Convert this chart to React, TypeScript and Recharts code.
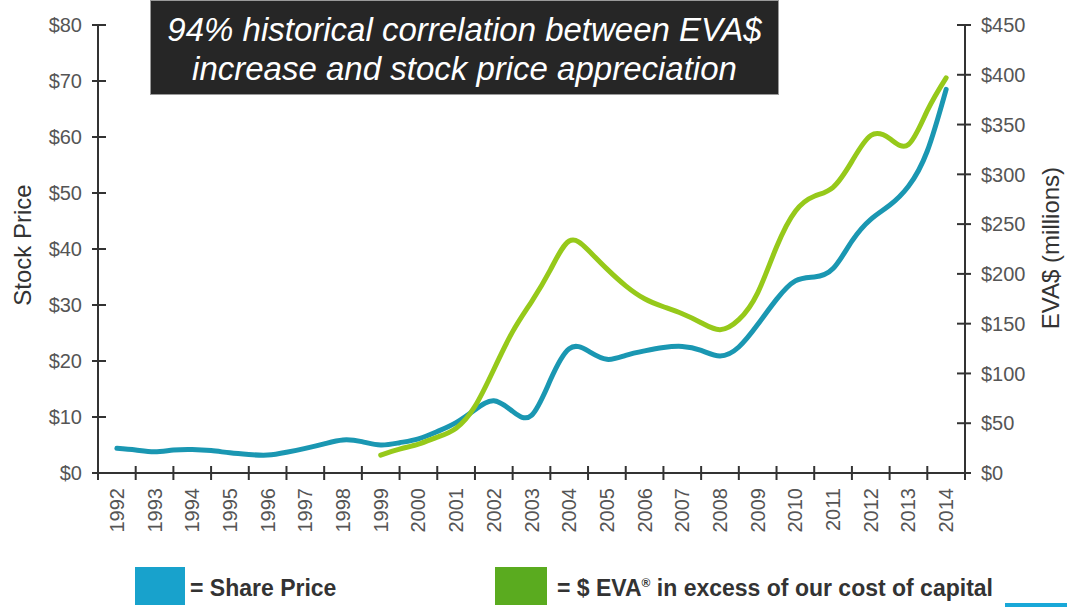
import { LineChart, Line, XAxis, YAxis } from "recharts";

// half-year sample points
const periods = [
  1992, 1992.5, 1993, 1993.5, 1994, 1994.5, 1995, 1995.5, 1996, 1996.5,
  1997, 1997.5, 1998, 1998.5, 1999, 1999.5, 2000, 2000.5, 2001, 2001.5,
  2002, 2002.5, 2003, 2003.5, 2004, 2004.5, 2005, 2005.5, 2006, 2006.5,
  2007, 2007.5, 2008, 2008.5, 2009, 2009.5, 2010, 2010.5, 2011, 2011.5,
  2012, 2012.5, 2013, 2013.5, 2014,
];

// share price, $ (left axis)
const sharePrice = [
  4.4, 4.1, 3.8, 4.1, 4.2, 4.0, 3.6, 3.3, 3.2, 3.7,
  4.4, 5.2, 5.9, 5.6, 5.0, 5.4, 6.1, 7.4, 9.0, 11.3,
  12.9, 11.0, 10.3, 16.6, 22.2, 21.8, 20.3, 21.0, 21.8, 22.4,
  22.6, 21.9, 20.9, 22.5, 26.5, 31.0, 34.3, 35.0, 36.5, 41.4,
  45.3, 47.8, 51.2, 57.5, 68.5,
];

// EVA$ in excess of cost of capital, $ millions (right axis)
const evaDollars = [
  null, null, null, null, null, null, null, null, null, null,
  null, null, null, null, 18, 24, 29, 36, 45, 67,
  104, 142, 172, 204, 233, 224, 205, 188, 175, 167,
  160, 151, 144, 154, 181, 227, 263, 278, 287, 313,
  339, 336, 330, 364, 397,
];

const years = [
  1992, 1993, 1994, 1995, 1996, 1997, 1998, 1999, 2000, 2001, 2002, 2003,
  2004, 2005, 2006, 2007, 2008, 2009, 2010, 2011, 2012, 2013, 2014,
];
const priceTicks = [0, 10, 20, 30, 40, 50, 60, 70, 80];
const evaTicks = [0, 50, 100, 150, 200, 250, 300, 350, 400, 450];

const rows = periods.map((p, i) => ({
  period: p,
  price: sharePrice[i],
  eva: evaDollars[i],
}));

const W = 1067;
const H = 607;
const LEFT_W = 98;
const RIGHT_W = 102;
const HALF_STEP = (W - LEFT_W - RIGHT_W) / years.length / 2;

const FONT = '"Liberation Sans", Arial, Helvetica, sans-serif';
const AXIS = "#333";
const TICK_TXT = "#555";
const BLUE = "#1a97b2";
const GREEN = "#96c91a";

function LeftTick(props: any) {
  const { x, y, payload } = props;
  return (
    <g>
      <line x1={x + 10} x2={x + 24} y1={y} y2={y} stroke={AXIS} strokeWidth={2} />
      <text x={x} y={y} dy="0.36em" textAnchor="end" fontFamily={FONT} fontSize={20} fill={TICK_TXT}>
        {"$" + payload.value}
      </text>
    </g>
  );
}

function RightTick(props: any) {
  const { x, y, payload } = props;
  return (
    <g>
      <line x1={x - 24} x2={x - 10} y1={y} y2={y} stroke={AXIS} strokeWidth={2} />
      <text x={x} y={y} dy="0.36em" textAnchor="start" fontFamily={FONT} fontSize={20} fill={TICK_TXT}>
        {"$" + payload.value}
      </text>
    </g>
  );
}

function YearTick(props: any) {
  const { x, y, payload, index } = props;
  const axisY = y - 15;
  return (
    <g>
      <line x1={x - HALF_STEP} x2={x - HALF_STEP} y1={axisY - 7} y2={axisY + 7} stroke={AXIS} strokeWidth={2} />
      {index === years.length - 1 && (
        <line x1={x + HALF_STEP} x2={x + HALF_STEP} y1={axisY - 7} y2={axisY + 7} stroke={AXIS} strokeWidth={2} />
      )}
      <text
        x={x}
        y={y}
        transform={`rotate(-90 ${x} ${y})`}
        textAnchor="end"
        dominantBaseline="central"
        fontFamily={FONT}
        fontSize={20}
        fill={TICK_TXT}
      >
        {payload.value}
      </text>
    </g>
  );
}

export default function App() {
  return (
    <div style={{ position: "absolute", left: 0, top: 0, width: W, height: H, background: "#fff", overflow: "hidden" }}>
      <LineChart width={W} height={H} data={rows} margin={{ top: 25, right: 0, bottom: 0, left: 0 }}>
        <XAxis
          dataKey="period"
          type="number"
          domain={[1991.5, 2014.5]}
          ticks={years}
          interval={0}
          height={134}
          tick={<YearTick />}
          tickLine={false}
          tickSize={6}
          tickMargin={9}
          axisLine={{ stroke: AXIS, strokeWidth: 2 }}
        />
        <YAxis
          yAxisId="left"
          domain={[0, 80]}
          ticks={priceTicks}
          interval={0}
          width={LEFT_W}
          tick={<LeftTick />}
          tickLine={false}
          tickSize={6}
          tickMargin={10}
          axisLine={{ stroke: AXIS, strokeWidth: 2 }}
          label={() => (
            <text
              x={22}
              y={245}
              transform="rotate(-90 22 245)"
              textAnchor="middle"
              dominantBaseline="central"
              fontFamily={FONT}
              fontSize={24}
              fill="#333"
            >
              Stock Price
            </text>
          )}
        />
        <YAxis
          yAxisId="right"
          orientation="right"
          domain={[0, 450]}
          ticks={evaTicks}
          interval={0}
          width={RIGHT_W}
          tick={<RightTick />}
          tickLine={false}
          tickSize={6}
          tickMargin={10}
          axisLine={{ stroke: AXIS, strokeWidth: 2 }}
          label={() => (
            <text
              x={1050}
              y={248}
              transform="rotate(-90 1050 248)"
              textAnchor="middle"
              dominantBaseline="central"
              fontFamily={FONT}
              fontSize={24}
              fill="#333"
            >
              EVA$ (millions)
            </text>
          )}
        />
        <Line
          yAxisId="left"
          dataKey="price"
          type="natural"
          stroke={BLUE}
          strokeWidth={5}
          dot={false}
          strokeLinecap="round"
          isAnimationActive={false}
        />
        <Line
          yAxisId="right"
          dataKey="eva"
          type="natural"
          stroke={GREEN}
          strokeWidth={5}
          dot={false}
          strokeLinecap="round"
          isAnimationActive={false}
        />
      </LineChart>

      <div
        style={{
          position: "absolute",
          left: 150,
          top: 0,
          width: 629,
          height: 95,
          boxSizing: "border-box",
          background: "#262626",
          border: "1px solid #9a9a9a",
          color: "#fff",
          fontFamily: FONT,
          fontStyle: "italic",
          fontSize: 33,
          lineHeight: "39px",
          textAlign: "center",
          paddingTop: 9,
        }}
      >
        94% historical correlation between EVA$
        <br />
        increase and stock price appreciation
      </div>

      <div style={{ position: "absolute", left: 135, top: 567, width: 50, height: 38, background: "#18a2cc" }} />
      <div
        style={{
          position: "absolute",
          left: 190,
          top: 574,
          fontFamily: FONT,
          fontWeight: "bold",
          fontSize: 23,
          lineHeight: "28px",
          color: "#333",
          whiteSpace: "nowrap",
        }}
      >
        = Share Price
      </div>
      <div style={{ position: "absolute", left: 495, top: 567, width: 52, height: 38, background: "#5aab1f" }} />
      <div
        style={{
          position: "absolute",
          left: 557,
          top: 574,
          fontFamily: FONT,
          fontWeight: "bold",
          fontSize: 23,
          lineHeight: "28px",
          color: "#333",
          whiteSpace: "nowrap",
        }}
      >
        = $ EVA<sup style={{ fontSize: 12, verticalAlign: "9px", lineHeight: 0 }}>®</sup> in excess of our cost of capital
      </div>
      <div style={{ position: "absolute", left: 1005, top: 603, width: 62, height: 4, background: "#19a8d8" }} />
    </div>
  );
}
